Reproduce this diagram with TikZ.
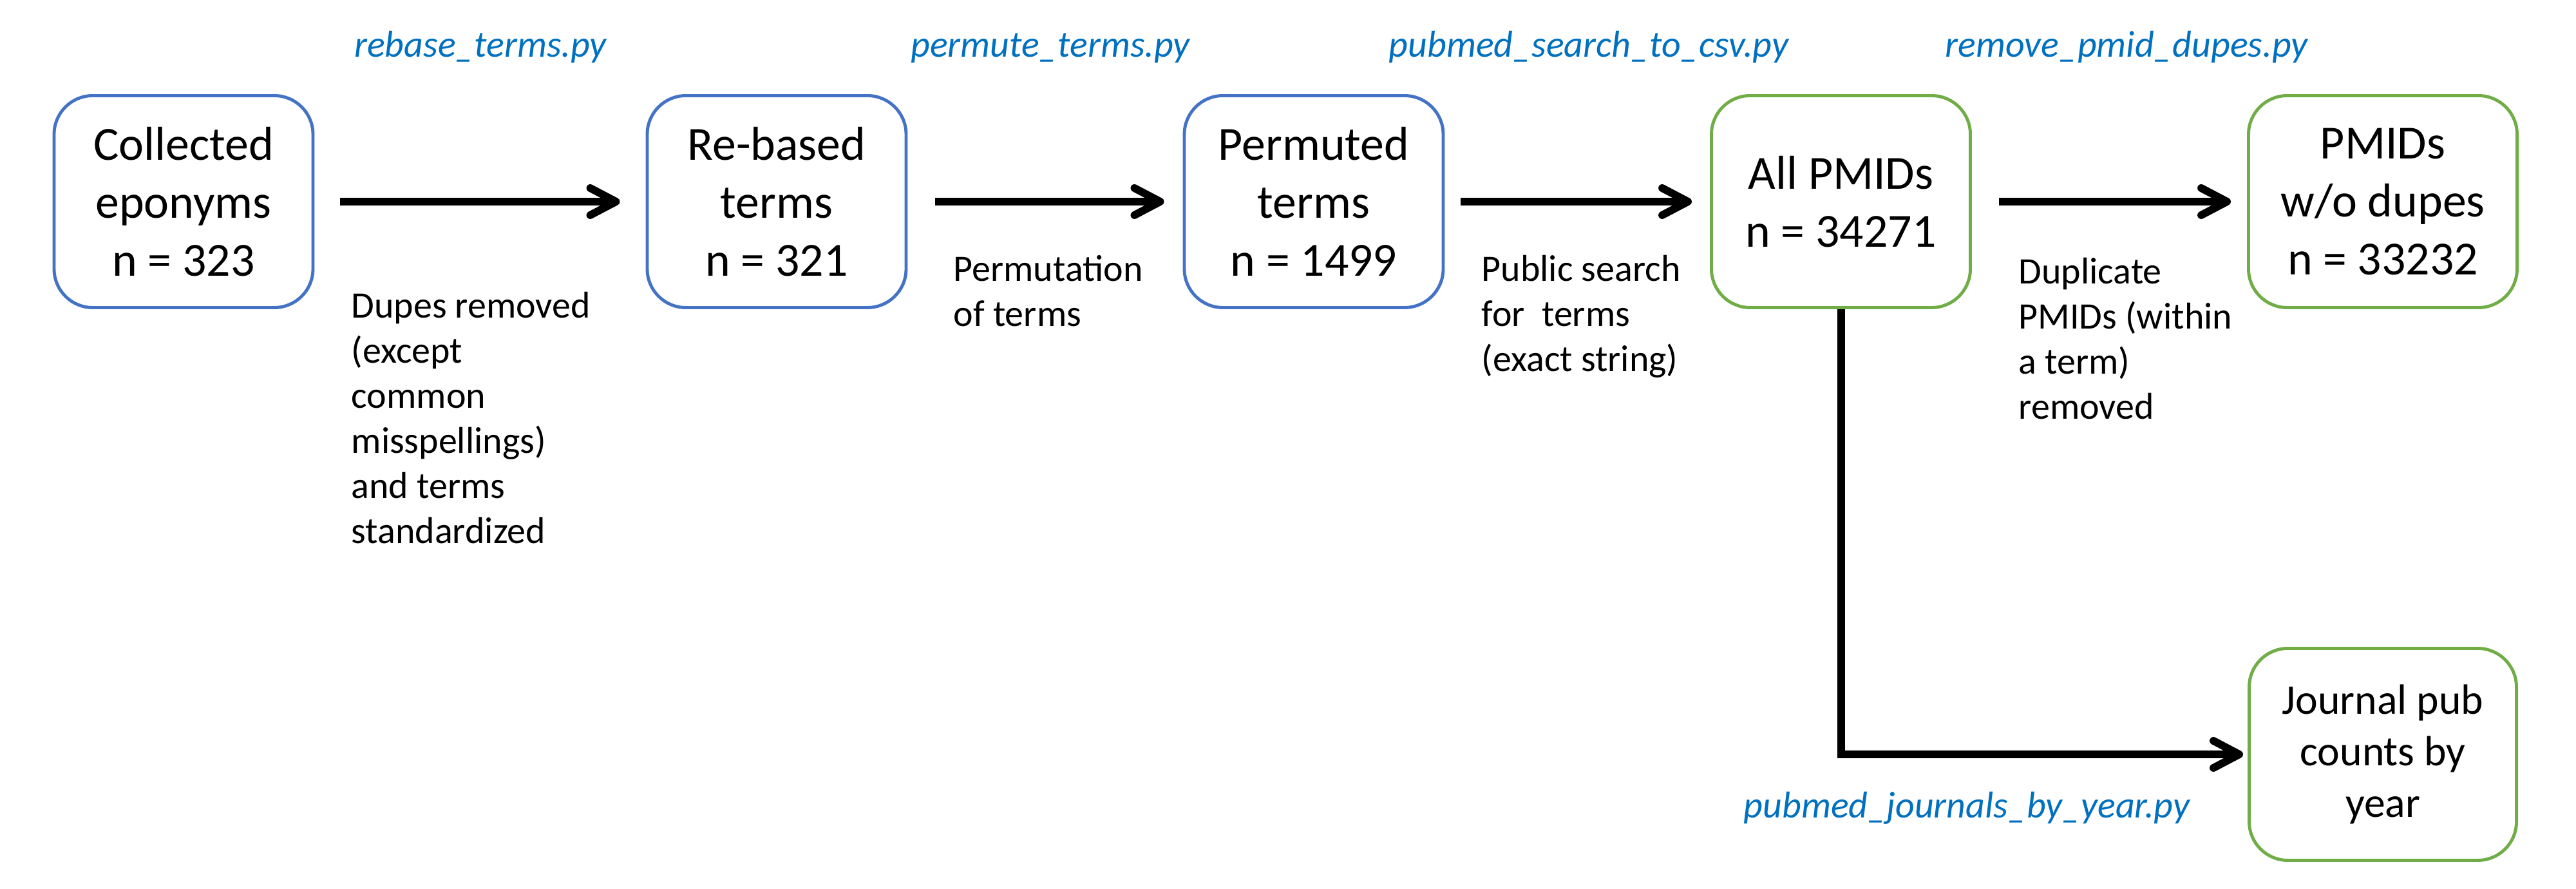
\documentclass[tikz,border=0pt]{standalone}
\usepackage{fontspec}
\setmainfont{Carlito}
\usepackage{xcolor}
\usepackage{tikz}
\usetikzlibrary{shapes,positioning,arrows.meta}
\definecolor{boxblue}{HTML}{4472C4}
\definecolor{boxgreen}{HTML}{70AD47}
\definecolor{pyblue}{HTML}{0070C0}
\tikzset{stage/.style={rectangle,rounded corners=0.6cm,draw=boxblue,line width=1.4pt,minimum width=4.02cm,minimum height=3.29cm,align=center,font=\fontsize{21}{25.6}\selectfont}}
\tikzset{pmid/.style={stage,draw=boxgreen}}
\tikzset{note/.style={align=left,anchor=north west,inner sep=0pt,font=\fontsize{16.5}{19.9}\selectfont}}
\tikzset{script/.style={anchor=base,inner sep=0pt,text=pyblue,font=\fontsize{16.5}{19.9}\selectfont\itshape}}
\tikzset{flow/.style={->,line width=3.4pt}}

\begin{document}
\begin{tikzpicture}[>={Straight Barb[length=4mm,width=4.2mm,round]}]
    \useasboundingbox (0,0) rectangle (40,13.8);

    \node[stage] (a)at (2.85,10.67) {Collected\\eponyms\\n = 323};
    \node[stage] (b)at (12.06,10.67) {Re-based\\terms\\n = 321};
    \node[stage] (c)at (20.40,10.67) {Permuted\\terms\\n = 1499};
    \node[pmid] (d)at (28.585,10.67) {All PMIDs\\n = 34271};
    \node[pmid,minimum width=4.17cm] (e)at (37.0,10.67) {PMIDs\\w/o dupes\\n = 33232};
    \node[pmid,minimum width=4.15cm,font=\fontsize{18.7}{22.7}\selectfont] (f)at (37.0,2.09) {Journal pub\\counts by\\year};

    \node[script] (sa)at (7.46,12.91) {rebase\_terms.py};
    \node[script] (sb)at (16.31,12.91) {permute\_terms.py};
    \node[script] (sc)at (24.67,12.91) {pubmed\_search\_to\_csv.py};
    \node[script] (sd)at (33.02,12.91) {remove\_pmid\_dupes.py};
    \node[script] (se)at (30.54,1.10) {pubmed\_journals\_by\_year.py};

    \node[note] (na)at (5.45,9.27) {Dupes removed\\(except\\common\\misspellings)\\and terms\\standardized};
    \node[note] (nb)at (14.80,9.84) {Permutation\\of terms};
    \node[note] (nc)at (23.00,9.84) {Public search\\for~ terms\\(exact string)};
    \node[note] (nd)at (31.34,9.80) {Duplicate\\PMIDs (within\\a term)\\removed};

    \draw [flow,shorten <=0.4cm,shorten >=0.4cm] (a) to (b);
    \draw [flow,shorten <=0.43cm,shorten >=0.29cm] (b) to (c);
    \draw [flow,shorten <=0.25cm,shorten >=0.28cm] (c) to (d);
    \draw [flow,shorten <=0.42cm,shorten >=0.25cm] (d) to (e);
    \draw [flow,shorten >=0.07cm] (d) |- (f);
\end{tikzpicture}
\end{document}
